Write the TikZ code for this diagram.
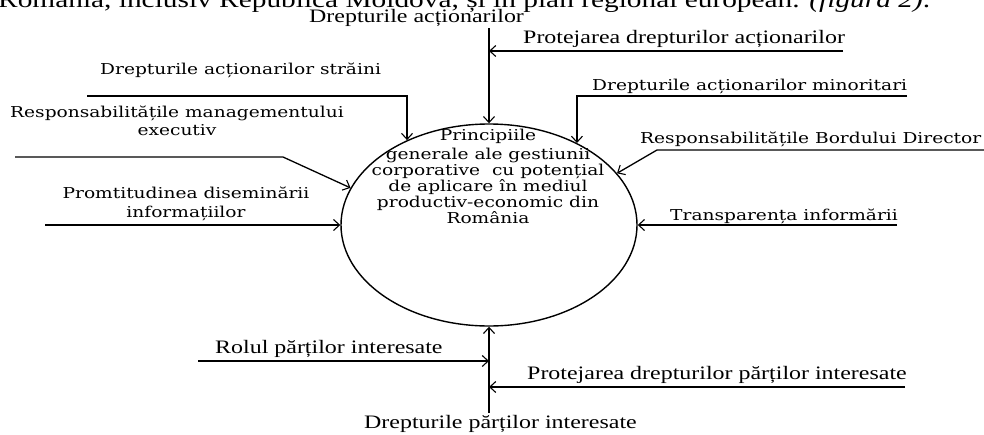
\documentclass[tikz,border=0pt]{standalone}
\usepackage{fontspec}
\setmainfont{Liberation Serif}
\newfontfamily\narrowserif[FakeStretch=1.26]{Liberation Serif}
\newfontfamily\wideserif[FakeStretch=1.24]{DejaVu Serif}
\usetikzlibrary{arrows.meta,shapes.geometric}

\tikzset{
  conn/.style={line width=1.3pt, -{Straight Barb[length=6pt,width=11pt,line width=1.1pt]}},
  lblN/.style={inner sep=0pt, font=\narrowserif\fontsize{19}{21}\selectfont},
  lblW/.style={inner sep=0pt, font=\wideserif\fontsize{15}{16}\selectfont},
  bodytext/.style={inner sep=0pt, font=\narrowserif\fontsize{23.3}{26}\selectfont},
  hubshape/.style={ellipse, draw, line width=1.4pt, minimum width=296pt, minimum height=202pt, inner sep=0pt},
}

\begin{document}
\begin{tikzpicture}[x=1pt,y=-1pt]
\useasboundingbox (0,0) rectangle (984,434);

% running text line of the page above the figure
\node[bodytext, anchor=base west] (caption) at (-2,7.5)
  {România, inclusiv Republica Moldova, și în plan regional european. \textit{(figura 2)}.};

% central ellipse and its text (base anchor = baseline of the last line)
\node[hubshape] (hub) at (489,225) {};
\node[lblW, align=center, anchor=base] (hubtext) at (488,223)
  {Principiile\\[2.5pt] generale ale gestiunii\\ corporative\ \ cu potențial\\ de aplicare în mediul\\ productiv-economic din\\ România};

% top: shareholders' rights
\node[lblN, anchor=base west] (dA) at (309,22) {Drepturile acționarilor};
\coordinate (dAstart) at (489,28);
\draw[conn] (dAstart) -- (hub.north);

\node[lblN, anchor=base west] (pA) at (523,43) {Protejarea drepturilor acționarilor};
\coordinate (pAstart) at (843,51);
\draw[conn] (pAstart) -- (pAstart -| hub.north);

% left side
\node[lblW, anchor=base west] (dS) at (100,74) {Drepturile acționarilor străini};
\coordinate (dSstart) at (87,96);
\draw[conn] (dSstart) -| (hub.134);

\node[lblW, align=center, anchor=base] (rM) at (177,135) {Responsabilitățile managementului\\[2pt] executiv};
\coordinate (rMstart) at (15,157);
\coordinate (rMbend) at (283,157);
\draw[conn] (rMstart) -- (rMbend) -- (hub.165);

\node[lblW, align=center, anchor=base] (pD) at (186,217) {Promtitudinea diseminării\\[3pt] informațiilor};
\coordinate (pDstart) at (45,225);
\draw[conn] (pDstart) -- (hub.west);

% right side
\node[lblW, anchor=base west] (dM) at (592,90) {Drepturile acționarilor minoritari};
\coordinate (dMstart) at (907,96);
\draw[conn] (dMstart) -| (hub.43);

\node[lblW, anchor=base west] (rB) at (640,143) {Responsabilitățile Bordului Director};
\coordinate (rBstart) at (990,150);
\coordinate (rBbend) at (657,150);
\draw[conn] (rBstart) -- (rBbend) -- (hub.22);

\node[lblW, anchor=base west] (tI) at (670,220) {Transparența informării};
\coordinate (tIstart) at (897,225);
\draw[conn] (tIstart) -- (hub.east);

% bottom: stakeholders
\coordinate (dPstart) at (489,413);
\draw[conn] (dPstart) -- (hub.south);
\node[lblN, anchor=base west] (dP) at (364,428) {Drepturile părților interesate};

\node[lblN, anchor=base west] (rP) at (215,353) {Rolul părților interesate};
\coordinate (rPstart) at (198,361);
\draw[conn] (rPstart) -- (rPstart -| hub.south);

\node[lblN, anchor=base west] (pP) at (527,379) {Protejarea drepturilor părților interesate};
\coordinate (pPstart) at (905,387);
\draw[conn] (pPstart) -- (pPstart -| hub.south);
\end{tikzpicture}
\end{document}
